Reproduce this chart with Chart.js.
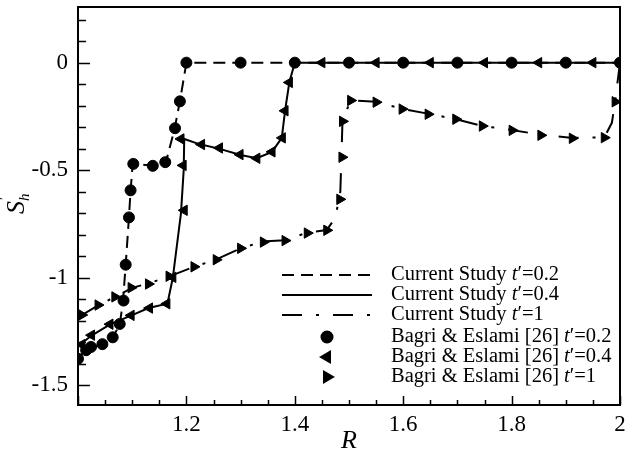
<!DOCTYPE html>
<html lang="en">
<head>
<meta charset="UTF-8">
<title>S'h versus R</title>
<script src="https://cdn.jsdelivr.net/npm/chart.js"></script>
<style>
  body { margin: 0; background: #fff; }
</style>
</head>
<body>
<canvas id="shChart" width="627" height="450"></canvas>
<script>
// Current Study t'=0.2 (dashed)
const cur02R = [1.0, 1.015, 1.045, 1.064, 1.077, 1.083, 1.088, 1.094, 1.097, 1.101, 1.138, 1.162, 1.178, 1.188, 1.2, 2.0];
const cur02S = [-1.375, -1.335, -1.31, -1.278, -1.22, -1.11, -0.94, -0.72, -0.595, -0.47, -0.48, -0.465, -0.31, -0.18, 0, 0];
// Current Study t'=0.4 (solid)
const cur04R = [1.0, 1.025, 1.06, 1.1, 1.13, 1.165, 1.175, 1.19, 1.195, 1.196, 1.225, 1.26, 1.3, 1.33, 1.358, 1.376, 1.382, 1.39, 1.4, 2.0];
const cur04S = [-1.32, -1.27, -1.217, -1.175, -1.142, -1.122, -1.0, -0.7, -0.5, -0.355, -0.38, -0.4, -0.43, -0.445, -0.415, -0.35, -0.224, -0.09, 0, 0];
// Current Study t'=1 (dash-dot)
const cur1R = [1.0, 1.037, 1.068, 1.1, 1.13, 1.168, 1.214, 1.255, 1.3, 1.342, 1.382, 1.424, 1.459, 1.475, 1.484, 1.486, 1.488, 1.503, 1.55, 1.6, 1.647, 1.697, 1.745, 1.8, 1.855, 1.913, 1.971, 1.985, 1.991, 2.0];
const cur1S = [-1.185, -1.13, -1.09, -1.048, -1.027, -0.995, -0.95, -0.916, -0.864, -0.832, -0.826, -0.79, -0.779, -0.72, -0.6, -0.44, -0.27, -0.175, -0.182, -0.216, -0.238, -0.263, -0.294, -0.313, -0.336, -0.35, -0.348, -0.28, -0.18, 0];

// Bagri & Eslami [26]
const bag02R = [1.0, 1.015, 1.024, 1.045, 1.064, 1.077, 1.084, 1.088, 1.094, 1.097, 1.102, 1.138, 1.161, 1.179, 1.188, 1.2, 1.3, 1.4, 1.5, 1.6, 1.7, 1.8, 1.9, 2.0];
const bag02S = [-1.378, -1.338, -1.323, -1.31, -1.278, -1.216, -1.107, -0.94, -0.72, -0.594, -0.471, -0.48, -0.463, -0.305, -0.18, 0, 0, 0, 0, 0, 0, 0, 0, 0];
const bag04R = [1.007, 1.025, 1.059, 1.098, 1.132, 1.164, 1.175, 1.196, 1.194, 1.19, 1.228, 1.261, 1.299, 1.33, 1.358, 1.377, 1.382, 1.39, 1.45, 1.55, 1.65, 1.75, 1.85, 1.95];
const bag04S = [-1.312, -1.268, -1.217, -1.176, -1.142, -1.122, -0.999, -0.687, -0.478, -0.355, -0.381, -0.397, -0.428, -0.445, -0.415, -0.35, -0.224, -0.092, 0, 0, 0, 0, 0, 0];
const bag1R = [1.007, 1.037, 1.068, 1.098, 1.13, 1.168, 1.214, 1.255, 1.3, 1.342, 1.382, 1.423, 1.459, 1.483, 1.487, 1.488, 1.503, 1.55, 1.598, 1.646, 1.697, 1.746, 1.801, 1.854, 1.912, 1.971, 1.991];
const bag1S = [-1.174, -1.128, -1.09, -1.047, -1.03, -0.994, -0.95, -0.917, -0.864, -0.835, -0.828, -0.793, -0.78, -0.636, -0.44, -0.273, -0.176, -0.184, -0.216, -0.24, -0.263, -0.295, -0.315, -0.338, -0.352, -0.349, -0.182];

// y tick marks every 0.1, labels every 0.5
const yTicks = [-1.5, -1.4, -1.3, -1.2, -1.1, -1, -0.9, -0.8, -0.7, -0.6, -0.5, -0.4, -0.3, -0.2, -0.1, 0, 0.1, 0.2];

const legendLabels = [
  ['Current Study ', '0.2'],
  ['Current Study ', '0.4'],
  ['Current Study ', '1'],
  ['Bagri & Eslami [26] ', '0.2'],
  ['Bagri & Eslami [26] ', '0.4'],
  ['Bagri & Eslami [26] ', '1']
];

const SERIF = "'Liberation Serif', 'Times New Roman', serif";
const DASHED = [12, 7];
const DASHDOT = [20, 14, 3, 14];

function pts(xs, ys) {
  return xs.map((x, i) => ({ x: x, y: ys[i] }));
}

function lineSet(xs, ys, dash) {
  return {
    type: 'line', data: pts(xs, ys), borderColor: '#000', borderWidth: 2,
    borderDash: dash, pointRadius: 0, tension: 0, fill: false, order: 2
  };
}

function markSet(xs, ys, style, rot, r) {
  return {
    type: 'scatter', data: pts(xs, ys), showLine: false, pointStyle: style,
    rotation: rot, pointRadius: r, backgroundColor: '#000', borderColor: '#000',
    borderWidth: 1, order: 1
  };
}

const isStep = (v, n) => Math.abs(v * n - Math.round(v * n)) < 1e-6;

// frame, inward tick marks, axis titles, legend
const decorations = {
  id: 'decorations',
  afterDraw(chart) {
    const { ctx, chartArea: a, scales: { x, y } } = chart;
    ctx.save();
    ctx.strokeStyle = '#000';
    ctx.lineWidth = 1.5;
    ctx.setLineDash([]);
    ctx.beginPath();
    x.ticks.forEach(t => {
      if (!isStep(t.value, 20)) return;
      const px = Math.round(x.getPixelForValue(t.value)) + 0.5;
      const len = isStep(t.value, 5) ? 9 : 5;
      ctx.moveTo(px, a.bottom);
      ctx.lineTo(px, a.bottom - len);
    });
    y.ticks.forEach(t => {
      const py = Math.round(y.getPixelForValue(t.value)) + 0.5;
      const len = isStep(t.value, 2) ? 12 : 8;
      ctx.moveTo(a.left, py);
      ctx.lineTo(a.left + len, py);
    });
    ctx.stroke();
    ctx.lineWidth = 2;
    ctx.strokeRect(a.left, a.top, a.right - a.left, a.bottom - a.top);

    // x title
    ctx.fillStyle = '#000';
    ctx.font = 'italic 26px ' + SERIF;
    ctx.textAlign = 'center';
    ctx.textBaseline = 'alphabetic';
    ctx.fillText('R', (a.left + a.right) / 2, 448);

    // y title S'_h
    ctx.save();
    ctx.translate(24, 214);
    ctx.rotate(-Math.PI / 2);
    ctx.textAlign = 'left';
    ctx.font = 'italic 26px ' + SERIF;
    ctx.fillText('S', 0, 0);
    ctx.font = 'italic 15px ' + SERIF;
    ctx.fillText('h', 13, 5);
    ctx.fillText('\u2032', 13, -15);
    ctx.restore();

    // legend
    const ds = chart.data.datasets;
    const rows = [275, 295, 315, 337, 357, 377];
    const x0 = 282, x1 = 372, tx = 391;
    const fs = '20.5px ';
    legendLabels.forEach((lab, i) => {
      const cy = rows[i];
      if (i < 3) {
        ctx.lineWidth = 2;
        ctx.setLineDash(ds[i].borderDash || []);
        ctx.beginPath();
        ctx.moveTo(x0, cy);
        ctx.lineTo(x1, cy);
        ctx.stroke();
        ctx.setLineDash([]);
      } else {
        const m = ds[i];
        ctx.fillStyle = '#000';
        Chart.helpers.drawPoint(ctx, {
          pointStyle: m.pointStyle, rotation: m.rotation, radius: m.pointRadius, borderWidth: 1
        }, (x0 + x1) / 2, cy);
      }
      ctx.fillStyle = '#000';
      ctx.textAlign = 'left';
      ctx.textBaseline = 'middle';
      let cx = tx;
      ctx.font = fs + SERIF;
      ctx.fillText(lab[0], cx, cy);
      cx += ctx.measureText(lab[0]).width;
      ctx.font = 'italic ' + fs + SERIF;
      ctx.fillText('t', cx, cy);
      cx += ctx.measureText('t').width;
      ctx.font = fs + SERIF;
      ctx.fillText('\u2032=' + lab[1], cx, cy);
    });
    ctx.restore();
  }
};

new Chart(document.getElementById('shChart'), {
  type: 'scatter',
  data: {
    datasets: [
      lineSet(cur02R, cur02S, DASHED),
      lineSet(cur04R, cur04S, []),
      lineSet(cur1R, cur1S, DASHDOT),
      markSet(bag02R, bag02S, 'circle', 0, 5.5),
      markSet(bag04R, bag04S, 'triangle', -90, 6),
      markSet(bag1R, bag1S, 'triangle', 90, 6)
    ]
  },
  options: {
    responsive: false,
    animation: false,
    layout: { padding: { top: 5, right: 3, left: 0, bottom: 0 } },
    plugins: { legend: { display: false }, tooltip: { enabled: false } },
    scales: {
      x: {
        type: 'linear', min: 1, max: 2,
        grid: { display: false, drawTicks: false },
        border: { display: false },
        ticks: {
          stepSize: 0.05, autoSkip: false, maxRotation: 0, padding: 6,
          color: '#000', font: { family: SERIF, size: 23 },
          callback: v => (isStep(v, 5) && v > 1.01) ? String(Number(v.toFixed(2))) : ''
        },
        afterFit: s => { s.height = 45; s.paddingLeft = 0; s.paddingRight = 0; }
      },
      y: {
        type: 'linear', min: -1.593, max: 0.259,
        grid: { display: false, drawTicks: false },
        border: { display: false },
        afterBuildTicks: s => { s.ticks = yTicks.map(v => ({ value: v })); },
        ticks: {
          autoSkip: false, padding: 10,
          color: '#000', font: { family: SERIF, size: 23 },
          callback: v => isStep(v, 2) ? String(Number(v.toFixed(1)) || 0) : ''
        },
        afterFit: s => { s.width = 78; s.paddingTop = 0; s.paddingBottom = 0; }
      }
    }
  },
  plugins: [decorations]
});
</script>
</body>
</html>
